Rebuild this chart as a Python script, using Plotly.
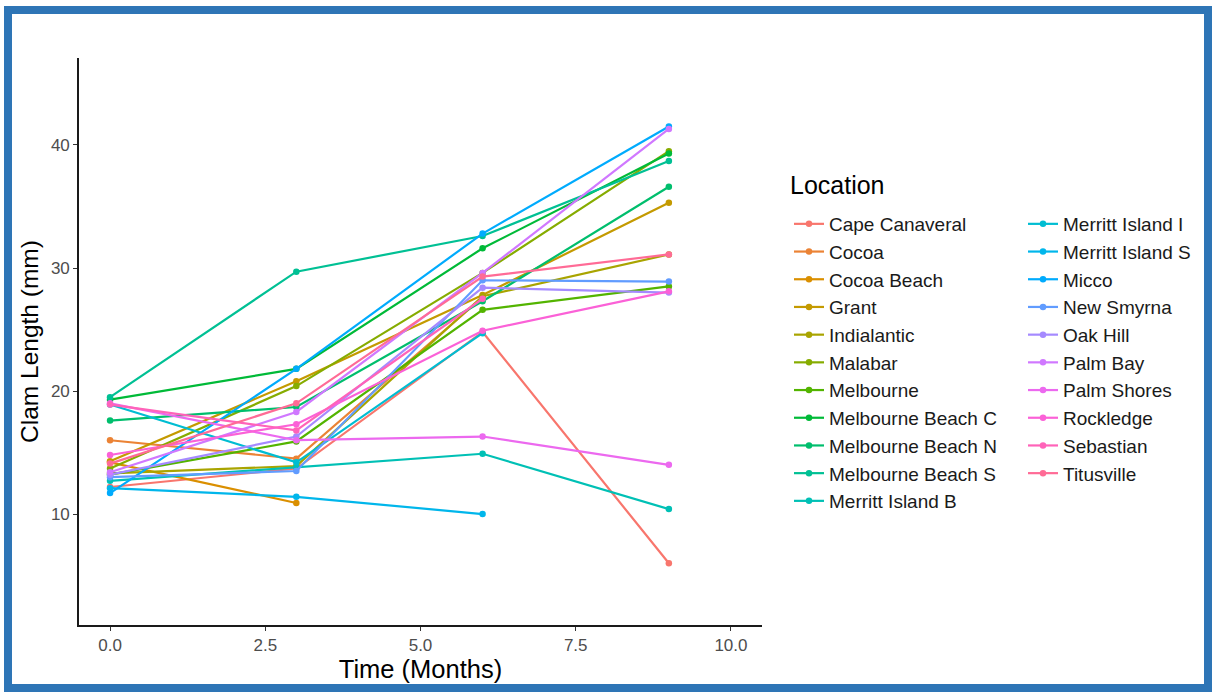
import math
import plotly.graph_objects as go

times = [0, 3, 6, 9]

locations = [
    "Cape Canaveral", "Cocoa", "Cocoa Beach", "Grant", "Indialantic", "Malabar",
    "Melbourne", "Melbourne Beach C", "Melbourne Beach N", "Melbourne Beach S",
    "Merritt Island B", "Merritt Island I", "Merritt Island S", "Micco",
    "New Smyrna", "Oak Hill", "Palm Bay", "Palm Shores", "Rockledge",
    "Sebastian", "Titusville",
]

cape_canaveral = [12.2, 13.7, 24.8, 6.0]
cocoa = [16.0, 14.5, 27.6, None]
cocoa_beach = [14.2, 10.9, None, None]
grant = [14.3, 20.8, 27.8, 35.3]
indialantic = [13.3, 13.9, 27.7, 31.1]
malabar = [13.7, 20.4, 29.6, 39.5]
melbourne = [13.2, 15.9, 26.6, 28.5]
melbourne_beach_c = [19.3, 21.8, 31.6, 39.3]
melbourne_beach_n = [17.6, 18.7, 27.3, 36.6]
melbourne_beach_s = [19.5, 29.7, 32.6, 38.7]
merritt_island_b = [12.7, 13.8, 14.9, 10.4]
merritt_island_i = [18.9, 14.2, 24.7, None]
merritt_island_s = [12.1, 11.4, 10.0, None]
micco = [11.7, 21.8, 32.8, 41.5]
new_smyrna = [13.0, 13.5, 29.0, 28.9]
oak_hill = [13.2, 16.3, 28.4, 28.0]
palm_bay = [13.4, 18.3, 29.6, 41.3]
palm_shores = [19.0, 16.0, 16.3, 14.0]
rockledge = [14.8, 17.3, 24.9, 28.1]
sebastian = [18.9, 16.8, 27.5, None]
titusville = [14.1, 19.0, 29.3, 31.1]

series = [
    cape_canaveral, cocoa, cocoa_beach, grant, indialantic, malabar, melbourne,
    melbourne_beach_c, melbourne_beach_n, melbourne_beach_s, merritt_island_b,
    merritt_island_i, merritt_island_s, micco, new_smyrna, oak_hill, palm_bay,
    palm_shores, rockledge, sebastian, titusville,
]


def hcl_hex(h, c=100.0, l=65.0):
    # polar Luv -> sRGB (as R's hcl())
    xn, yn, zn = 95.047, 100.0, 108.883
    un = 4 * xn / (xn + 15 * yn + 3 * zn)
    vn = 9 * yn / (xn + 15 * yn + 3 * zn)
    u = c * math.cos(math.radians(h))
    v = c * math.sin(math.radians(h))
    y = yn * ((l + 16) / 116) ** 3 if l > 8 else yn * l / 903.3
    up = u / (13 * l) + un
    vp = v / (13 * l) + vn
    x = y * 9 * up / (4 * vp)
    z = y * (12 - 3 * up - 20 * vp) / (4 * vp)
    x, y, z = x / 100, y / 100, z / 100
    r = 3.240479 * x - 1.537150 * y - 0.498535 * z
    g = -0.969256 * x + 1.875992 * y + 0.041556 * z
    b = 0.055648 * x - 0.204043 * y + 1.057311 * z

    def gam(t):
        t = 12.92 * t if t <= 0.0031308 else 1.055 * t ** (1 / 2.4) - 0.055
        return max(0, min(255, round(t * 255)))

    return "#%02X%02X%02X" % (gam(r), gam(g), gam(b))


n = len(locations)
hues = [15 + i * 360 / n for i in range(n)]
colors = [hcl_hex(h) for h in hues]

# plot area in pixels
L, R, T, B = 79, 762, 58, 625
W, H = 1215, 692

fig = go.Figure()
for i, (name, vals) in enumerate(zip(locations, series)):
    fig.add_trace(go.Scatter(
        x=times, y=vals, name=name, mode="lines+markers",
        line=dict(color=colors[i], width=2.2),
        marker=dict(color=colors[i], size=6.5),
        legend="legend" if i < 11 else "legend2",
    ))


def px_x(p):
    return (p - L) / (R - L)


def px_y(p):
    return (B - p) / (B - T)


FONT = "Liberation Sans, Arial, sans-serif"
legend_font = dict(family=FONT, size=19, color="#1a1a1a")
fig.update_layout(
    width=W, height=H,
    margin=dict(l=L, r=W - R, t=T, b=H - B),
    paper_bgcolor="white", plot_bgcolor="white",
    font=dict(family=FONT),
    xaxis=dict(
        range=[-0.5, 10.5], tickvals=[0, 2.5, 5, 7.5, 10],
        ticktext=["0.0", "2.5", "5.0", "7.5", "10.0"],
        showgrid=False, zeroline=False, showline=True, linecolor="#1a1a1a", linewidth=1.6,
        ticks="outside", ticklen=4, tickcolor="#333333", tickwidth=1.2,
        tickfont=dict(size=17, color="#4D4D4D"),
        title=dict(text="Time (Months)", font=dict(size=25.5, color="black"), standoff=0),
    ),
    yaxis=dict(
        range=[0.98, 47.07], tickvals=[10, 20, 30, 40],
        showgrid=False, zeroline=False, showline=True, linecolor="#1a1a1a", linewidth=1.6,
        ticks="outside", ticklen=4, tickcolor="#333333", tickwidth=1.2,
        tickfont=dict(size=17, color="#4D4D4D"),
        title=dict(text="Clam Length (mm)", font=dict(size=24.5, color="black"), standoff=5),
    ),
    legend=dict(
        x=px_x(789), y=px_y(205), xanchor="left", yanchor="top",
        font=legend_font, bgcolor="rgba(0,0,0,0)", itemwidth=30, tracegroupgap=0,
    ),
    legend2=dict(
        x=px_x(1023), y=px_y(205), xanchor="left", yanchor="top",
        font=legend_font, bgcolor="rgba(0,0,0,0)", itemwidth=30, tracegroupgap=0,
    ),
    showlegend=True,
    annotations=[dict(
        text="Location", xref="paper", yref="paper", x=px_x(788), y=px_y(185),
        xanchor="left", yanchor="middle", showarrow=False,
        font=dict(size=25, color="black", family=FONT),
    )],
    shapes=[dict(
        type="rect", xref="paper", yref="paper",
        x0=px_x(8), x1=px_x(1208), y0=px_y(688), y1=px_y(10),
        line=dict(color="#2E75B6", width=8), fillcolor="rgba(0,0,0,0)", layer="above",
    )],
)

fig.write_html("out.html")
